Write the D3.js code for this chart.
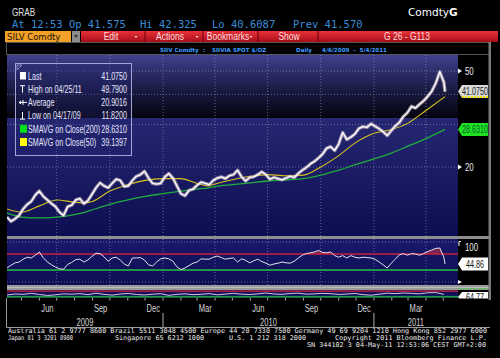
<!DOCTYPE html>
<html><head><meta charset="utf-8">
<script src="https://cdn.jsdelivr.net/npm/d3@7"></script>
<style>body{margin:0;background:#000}svg{display:block}</style>
</head><body><svg id="c" width="500" height="358"></svg>
<script>
// ---------------- DATA ----------------
const weekStarts = d3.timeMonday.range(new Date(2009,3,6), new Date(2011,4,3));
const priceDates = weekStarts.concat([new Date(2011,4,4)]);
const priceValues = [12.4,11.9,12.2,12.6,13.4,14.0,14.4,15.3,15.9,15.1,
 14.6,14.1,13.7,13.0,12.6,13.7,13.9,14.6,14.8,14.1,
 14.5,15.4,16.4,17.2,16.7,16.4,17.1,17.8,17.6,16.6,
 16.7,17.6,18.3,18.6,19.2,18.0,17.1,17.0,17.1,18.2,
 18.8,18.0,16.7,15.5,15.2,16.0,16.2,16.8,17.3,17.1,
 16.9,17.6,18.0,18.2,17.9,18.4,18.6,19.4,18.2,17.5,
 18.1,18.2,18.6,19.1,18.6,17.8,18.1,17.9,17.7,18.0,
 18.3,18.1,18.8,19.4,19.9,20.6,21.1,21.8,22.6,23.9,
 24.3,23.4,24.9,27.8,26.0,26.6,27.4,28.9,29.4,29.2,
 30.2,29.5,28.8,28.0,27.0,28.3,29.6,30.6,32.4,33.6,
 35.7,35.1,36.4,37.6,39.2,41.2,44.5,49.6,45.0,41.075];
const rsiValues = [35,42,48,50,57,62,60,67,75,60,
 50,43,37,33,32,44,49,56,57,50,
 55,64,72,71,63,52,60,62,55,45,
 40,60,60,61,55,43,40,50,58,60,
 58,52,38,31,35,41,47,50,58,57,
 57,62,65,61,57,59,60,50,58,54,
 48,53,57,51,47,42,45,47,50,48,
 47,52,60,67,71,73,75,79,74,73,
 75,66,62,66,60,66,62,60,62,61,
 60,57,50,43,35,47,57,68,71,67,
 71,70,67,71,76,80,84,85,62,44.86];
const maDates = ["2009-04-06","2009-05-01","2009-06-01","2009-07-01","2009-08-01","2009-08-20","2009-09-01",
 "2009-10-01","2009-11-01","2009-12-01","2010-01-01","2010-02-01","2010-03-01","2010-03-20","2010-04-01",
 "2010-05-01","2010-06-01","2010-07-01","2010-08-01","2010-09-01","2010-10-01","2010-11-01","2010-12-01",
 "2011-01-01","2011-02-01","2011-03-01","2011-04-01","2011-05-04"];
const sma50Values = [13.4,13.0,13.8,14.6,14.3,14.2,14.4,15.9,16.9,17.6,17.9,17.9,17.1,16.7,17.0,
 17.7,18.3,18.6,18.4,18.5,20.0,22.3,25.3,27.6,28.6,30.4,34.3,39.1397];
const sma200Values = [12.9,12.4,12.3,12.4,12.7,13.0,13.3,14.0,14.6,15.1,15.5,15.9,16.2,16.4,16.6,
 16.9,17.2,17.5,17.7,17.9,18.5,19.4,20.5,21.6,22.9,24.4,26.2,28.631];
const oscValues = [38,50,46,58,44,32,40,52,48,55,42,60,46,36,50,57,44,38,48,54,33,46,52,42,47,55,40,50,58,48,
 44,52,62,50,46,57,60,48,52,58,54,45,50,57,42,35,48,60,55,62,58,52,65,67,46];
const monthLabels = ["Jun","Sep","Dec","Mar","Jun","Sep","Dec","Mar"];
const monthLabelDates = ["2009-06-15","2009-09-15","2009-12-15","2010-03-15","2010-06-15","2010-09-15","2010-12-15","2011-03-15"];
const yearLabels = ["2009","2010","2011"];
const yearStarts = ["2010-01-01","2011-01-01"];
const gridDates = ["2009-07-01","2009-10-01","2010-01-01","2010-04-01","2010-07-01","2010-10-01","2011-01-01","2011-04-01"];
const priceGrid = [20,30,40,50];
const priceTickLabels = ["50","20"];
const legendLabels = ["Last","High on 04/25/11","Average","Low on 04/17/09","SMAVG on Close(200)","SMAVG on Close(50)"];
const legendValues = ["41.0750","49.7900","20.9016","11.8200","28.6310","39.1397"];
const lastPrice = 41.075, lastSma200 = 28.631, lastRsi = 44.86, lastOsc = "64.77";
const toolbarItems = ["Edit","Actions","Bookmarks","Show"];

// ---------------- SETUP ----------------
const parse = d3.timeParse("%Y-%m-%d");
const svg = d3.select("#c");
const defs = svg.append("defs");
const SANS = "'Liberation Sans',Arial,sans-serif";
const MONO = "'DejaVu Sans Mono','Liberation Mono',monospace";
function nt(parent, tx, ty, txt, size, fill, anchor, sx){
  return parent.append("text").attr("transform",`translate(${tx},${ty}) scale(${sx||0.74},1)`)
    .attr("text-anchor",anchor||"start").attr("font-family",SANS).attr("font-size",size).attr("fill",fill).text(txt);
}
function grad(id, stops){
  const g = defs.append("linearGradient").attr("id",id).attr("x1",0).attr("y1",0).attr("x2",0).attr("y2",1);
  stops.forEach(s=>g.append("stop").attr("offset",s[0]).attr("stop-color",s[1]));
}
grad("bgMain",[["0%","#40428f"],["35%","#27287222"],["35%","#262772"],["100%","#0d0d52"]]);
grad("bgRsi",[["0%","#18196c"],["100%","#0d0d52"]]);
grad("red",[["0%","#e8323a"],["100%","#a80e18"]]);

const PL=7, PR=458;
const x = d3.scaleTime().domain([new Date(2009,3,6), new Date(2011,4,4)]).range([7,445]);
const y = d3.scaleLog().domain([20,50]).range([167,71]);
const yR = d3.scaleLinear().domain([0,100]).range([282,242]);
const yO = d3.scaleLinear().domain([0,100]).range([298,290]);

function clip(id,x0,y0,w,h){defs.append("clipPath").attr("id",id).append("rect").attr("x",x0).attr("y",y0).attr("width",w).attr("height",h);}
clip("cMain",PL,55,PR-PL,181);
clip("cRsi",PL,239,PR-PL,46);
clip("cRsiHi",PL,239,PR-PL,yR(70)-239);
clip("cRsiLo",PL,yR(30),PR-PL,285-yR(30));
clip("cOsc",PL,290,PR-PL,8);
clip("cOscBox",455,290,40,8.5);

// ---------------- HEADER ----------------
nt(svg,12,15.5,"GRAB",10.5,"#e2e2e2","start",0.78);
const hdr = svg.append("g").attr("font-family",MONO).attr("font-size",10.5).attr("fill","#3a8cd6");
[["At 12:53 Op 41.575",12],["Hi 42.325",140],["Lo 40.6087",212],["Prev 41.570",293]].forEach(d=>hdr.append("text").attr("x",d[1]).attr("y",28).text(d[0]));
const cg = svg.append("text").attr("x",408).attr("y",16).attr("font-family","'DejaVu Sans',sans-serif").attr("font-size",10.5).attr("fill","#fff");
cg.append("tspan").text("Comdty");
cg.append("tspan").attr("font-weight","bold").text("G");

// toolbar
svg.append("rect").attr("x",5).attr("y",31).attr("width",66).attr("height",11).attr("fill","#f2a027");
svg.append("text").attr("x",7).attr("y",40).attr("font-family","'DejaVu Sans',sans-serif").attr("font-size",8.5).attr("fill","#1a1000").text("SILV Comdty");
svg.append("rect").attr("x",72).attr("y",31).attr("width",8).attr("height",11).attr("fill","#8d8d8d");
svg.append("path").attr("d","M74,35 L78,35 L76,38 Z").attr("fill","#333");
svg.append("rect").attr("x",81).attr("y",31).attr("width",417).attr("height",11).attr("fill","url(#red)");
const tb = svg.append("g");
[111,170,228,289].forEach((cx,i)=>nt(tb,cx,39.5,toolbarItems[i],10,"#ffdcdc","middle",0.85));
nt(tb,407,39.5,"G 26 - G113",10,"#ffdcdc","middle",0.85);
[145,203,258,318].forEach(sx=>svg.append("line").attr("x1",sx).attr("x2",sx).attr("y1",31).attr("y2",42).attr("stroke","#6a0008").attr("stroke-width",1));
[136,197,251].forEach(ax=>svg.append("path").attr("d",`M${ax-1.5},36 L${ax+1.5},36 L${ax},38 Z`).attr("fill","#ffe0e0"));

// info row
svg.append("rect").attr("x",6.5).attr("y",42.5).attr("width",483).attr("height",12).attr("fill","#000").attr("stroke","#555").attr("stroke-width",1);
const ir = svg.append("g").attr("font-family","'DejaVu Sans',sans-serif").attr("font-size",5.6).attr("font-weight","bold").attr("fill","#3f9cff");
[["SIIV Comdty",160],[":",203],["SIIVIA SPOT $/OZ",212],["Daily",296],["4/6/2009  -  5/4/2011",322]].forEach(d=>ir.append("text").attr("x",d[1]).attr("y",51.5).attr("xml:space","preserve").text(d[0]));

// ---------------- PANELS ----------------
svg.append("rect").attr("x",PL).attr("y",55).attr("width",PR-PL).attr("height",181).attr("fill","url(#bgMain)");
svg.append("rect").attr("x",PL).attr("y",239).attr("width",PR-PL).attr("height",46).attr("fill","url(#bgRsi)");
svg.append("rect").attr("x",PL).attr("y",290).attr("width",PR-PL).attr("height",8).attr("fill","#0e0f58");
svg.append("rect").attr("x",PL).attr("y",236).attr("width",484).attr("height",3).attr("fill","#8e8e8e");
svg.append("rect").attr("x",PL).attr("y",285).attr("width",484).attr("height",5).attr("fill","#9a9a9a");
svg.append("rect").attr("x",PL).attr("y",287).attr("width",484).attr("height",1).attr("fill","#bdbdbd");
svg.append("rect").attr("x",488.5).attr("y",42).attr("width",2.5).attr("height",258).attr("fill","#7a7a7a");

// grid
const gd = gridDates.map(parse);
const grid = svg.append("g").attr("stroke","#9a9ad0").attr("stroke-width",0.8).attr("stroke-dasharray","1,2").attr("opacity",0.75);
gd.forEach(d=>{
  grid.append("line").attr("x1",x(d)).attr("x2",x(d)).attr("y1",55).attr("y2",236);
  grid.append("line").attr("x1",x(d)).attr("x2",x(d)).attr("y1",239).attr("y2",285);
});
priceGrid.forEach(v=>grid.append("line").attr("x1",PL).attr("x2",PR).attr("y1",y(v)).attr("y2",y(v)));
[0,100].forEach(v=>grid.append("line").attr("x1",PL).attr("x2",PR).attr("y1",yR(v)).attr("y2",yR(v)));

// ---------------- MAIN SERIES ----------------
const mg = svg.append("g").attr("clip-path","url(#cMain)");
const maD = maDates.map(parse);
const maLine = d3.line().curve(d3.curveMonotoneX);
mg.append("path").attr("d",maLine(maD.map((d,i)=>[x(d),y(sma200Values[i])]))).attr("fill","none").attr("stroke","#1fae3c").attr("stroke-width",1.3);
mg.append("path").attr("d",maLine(maD.map((d,i)=>[x(d),y(sma50Values[i])]))).attr("fill","none").attr("stroke","#d6c21e").attr("stroke-width",1.1);
const pLine = d3.line().x((d,i)=>x(priceDates[i])).y(d=>y(d));
mg.append("path").attr("d",pLine(priceValues)).attr("fill","none").attr("stroke","#cfbcc6").attr("stroke-width",3.4).attr("opacity",0.7).attr("stroke-linejoin","round");
mg.append("path").attr("d",pLine(priceValues)).attr("fill","none").attr("stroke","#ffffff").attr("stroke-width",1.3).attr("stroke-linejoin","round");

// legend
const lg = svg.append("g");
lg.append("rect").attr("x",15.5).attr("y",63.5).attr("width",116).attr("height",92).attr("fill","#23246e").attr("fill-opacity",0.35).attr("stroke","#a4a4d8").attr("stroke-width",1);
lg.append("path").attr("d","M17,65 L22,65 L17,70 Z").attr("fill","none").attr("stroke","#a4a4d8").attr("stroke-width",0.8);
legendLabels.forEach((lab,i)=>{
  const cy = 76 + 13.2*i;
  nt(lg,28,cy+3.8,lab,10.5,"#e6e6ff","start",0.68);
  nt(lg,127,cy+3.8,legendValues[i],10.5,"#e6e6ff","end",0.68);
  const ic = lg.append("g").attr("stroke","#fff").attr("stroke-width",1).attr("fill","none");
  if(i===0) lg.append("rect").attr("x",20).attr("y",cy-4).attr("width",6).attr("height",7.5).attr("fill","#fff");
  if(i===1){ic.append("path").attr("d",`M20,${cy-3.5} L25,${cy-3.5} M22.5,${cy-3.5} L22.5,${cy+3.5}`);}
  if(i===2){ic.append("path").attr("d",`M19,${cy} L27,${cy} M23,${cy-2.5} L23,${cy+2.5} M19,${cy} L21,${cy-1.5} M19,${cy} L21,${cy+1.5}`);}
  if(i===3){ic.append("path").attr("d",`M20,${cy+3.5} L25,${cy+3.5} M22.5,${cy-3.5} L22.5,${cy+3.5}`);}
  if(i===4) lg.append("rect").attr("x",20).attr("y",cy-4).attr("width",7).attr("height",8).attr("fill","#00e01a");
  if(i===5) lg.append("rect").attr("x",20).attr("y",cy-4).attr("width",7).attr("height",8).attr("fill","#ffff00");
});

// right axis main
const ra = svg.append("g");
[50,20].forEach((v,i)=>{
  ra.append("path").attr("d",`M458,${y(v)-2.5} L462,${y(v)} L458,${y(v)+2.5} Z`).attr("fill","#fff");
  nt(ra,465,y(v)+4,priceTickLabels[i],10.5,"#e8e8e8","start",0.75);
});
function tag(cy, fill, txt, txtFill){
  const g = svg.append("g");
  g.append("path").attr("d",`M458,${cy} L462,${cy-6.5} L488,${cy-6.5} L488,${cy+6.5} L462,${cy+6.5} Z`).attr("fill",fill);
  nt(g,475,cy+3.5,txt,10,txtFill,"middle",0.72);
  return g;
}
const tLast = tag(y(lastPrice),"#d9d9d9",d3.format(".4f")(lastPrice),"#222");
tLast.append("line").attr("x1",462).attr("x2",488).attr("y1",y(lastPrice)+5.5).attr("y2",y(lastPrice)+5.5).attr("stroke","#f0e000").attr("stroke-width",2).attr("stroke-dasharray","2,1");
tag(y(lastSma200),"#22e022",d3.format(".4f")(lastSma200),"#063");

// ---------------- RSI ----------------
const rg = svg.append("g").attr("clip-path","url(#cRsi)");
const rLine = d3.line().x((d,i)=>x(priceDates[i])).y(d=>yR(d));
const rArea = d3.area().x((d,i)=>x(priceDates[i])).y1(d=>yR(d));
rg.append("path").attr("clip-path","url(#cRsiHi)").attr("d",rArea.y0(yR(70))(rsiValues)).attr("fill","#8a2c52").attr("opacity",0.85);
rg.append("path").attr("clip-path","url(#cRsiLo)").attr("d",rArea.y0(yR(30))(rsiValues)).attr("fill","#1f6a40").attr("opacity",0.85);
rg.append("line").attr("x1",PL).attr("x2",PR).attr("y1",yR(70)).attr("y2",yR(70)).attr("stroke","#c8203c").attr("stroke-width",1.3);
rg.append("line").attr("x1",PL).attr("x2",PR).attr("y1",yR(30)).attr("y2",yR(30)).attr("stroke","#22c040").attr("stroke-width",1.3);
rg.append("path").attr("d",rLine(rsiValues)).attr("fill","none").attr("stroke","#e8e0f0").attr("stroke-width",1);
svg.append("path").attr("d",`M461,241.5 L459,241.5 L459,246`).attr("fill","none").attr("stroke","#fff");
nt(svg,465,251,"100",10.5,"#e8e8e8","start",0.75);
svg.append("path").attr("d",`M458,${yR(0)-2} L462,${yR(0)} L458,${yR(0)+2} Z`).attr("fill","#fff");
tag(yR(lastRsi),"#ffffff",d3.format(".2f")(lastRsi),"#111");

// ---------------- OSC panel ----------------
const og = svg.append("g").attr("clip-path","url(#cOsc)");
og.append("rect").attr("x",PL).attr("y",290).attr("width",PR-PL).attr("height",yO(80)-290).attr("fill","#6a2448");
og.append("rect").attr("x",PL).attr("y",yO(20)).attr("width",PR-PL).attr("height",298-yO(20)).attr("fill","#1d5e4c");
og.append("line").attr("x1",PL).attr("x2",PR).attr("y1",yO(80)).attr("y2",yO(80)).attr("stroke","#c8203c").attr("stroke-width",0.8);
og.append("line").attr("x1",PL).attr("x2",PR).attr("y1",yO(20)).attr("y2",yO(20)).attr("stroke","#22c040").attr("stroke-width",0.8);
const oscDates = weekStarts.filter((d,i)=>i%2===0);
og.append("path").attr("d",d3.line().x((d,i)=>x(oscDates[i])).y(d=>yO(d))(oscValues)).attr("fill","none").attr("stroke","#e8e0f0").attr("stroke-width",0.9);
svg.append("line").attr("x1",458).attr("x2",488).attr("y1",288.5).attr("y2",288.5).attr("stroke","#3ad03a").attr("stroke-dasharray","1.5,1");
const ob = svg.append("g").attr("clip-path","url(#cOscBox)");
ob.append("path").attr("d","M458,297 L462,292 L488,292 L488,302 L462,302 Z").attr("fill","#fff");
nt(ob,475,300.5,lastOsc,10,"#111","middle",0.72);

// ---------------- X AXIS ----------------
const xa = svg.append("g");
d3.timeMonth.range(new Date(2009,4,1), new Date(2011,4,5)).forEach(d=>{
  xa.append("line").attr("x1",x(d)).attr("x2",x(d)).attr("y1",298).attr("y2",300.5).attr("stroke","#ddd").attr("stroke-width",0.8);
});
monthLabelDates.map(parse).forEach((d,i)=>nt(xa,x(d),312,monthLabels[i],10.5,"#d6d6d6","middle",0.72));
const ys = yearStarts.map(parse);
const yb = [PL, x(ys[0]), x(ys[1]), PR];
yearLabels.forEach((t,i)=>nt(xa,(yb[i]+yb[i+1])/2,325.5,t,10.5,"#d6d6d6","middle",0.72));
ys.forEach(d=>xa.append("line").attr("x1",x(d)).attr("x2",x(d)).attr("y1",313).attr("y2",327).attr("stroke","#b0b0b0").attr("stroke-width",1));
xa.append("path").attr("d","M6.5,298 L6.5,327.5 L490,327.5").attr("fill","none").attr("stroke","#9a9a9a").attr("stroke-width",1);

// ---------------- FOOTER ----------------
const ft = svg.append("g").attr("font-family",MONO).attr("font-size",6.6).attr("fill","#ececec");
ft.append("text").attr("x",8).attr("y",333).attr("textLength",479).attr("lengthAdjust","spacingAndGlyphs").text("Australia 61 2 9777 8600 Brazil 5511 3048 4500 Europe 44 20 7330 7500 Germany 49 69 9204 1210 Hong Kong 852 2977 6000");
[["Japan 81 3 3201 8900",8,65],["Singapore 65 6212 1000",115,89],["U.S. 1 212 318 2000",229,77],["Copyright 2011 Bloomberg Finance L.P.",335,152]].forEach(d=>
  ft.append("text").attr("x",d[1]).attr("y",340).attr("textLength",d[2]).attr("lengthAdjust","spacingAndGlyphs").text(d[0]));
ft.append("text").attr("x",307).attr("y",347).attr("textLength",179).attr("lengthAdjust","spacingAndGlyphs").text("SN 344102 3 04-May-11 12:53:06 CEST GMT+2:00");
</script></body></html>
